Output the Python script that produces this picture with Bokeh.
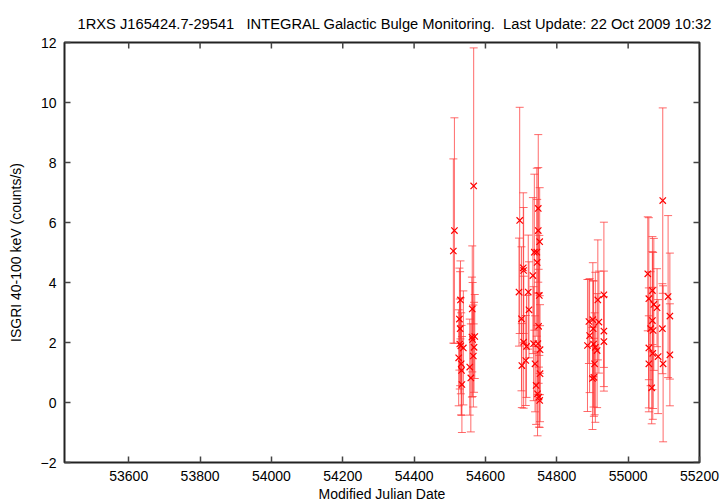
import math
from bokeh.plotting import figure
from bokeh.models import (ColumnDataSource, Whisker, TeeHead, LinearAxis,
                          FixedTicker, Range1d)
from bokeh.embed import file_html
from bokeh.resources import INLINE

# ---- data ----
mjd = [
    54510, 54513, 54525, 54527, 54528, 54529, 54530, 54531, 54532, 54533,
    54534, 54538, 54556, 54559, 54562, 54563, 54564, 54566, 54567, 54568, 54570,
    54694, 54696, 54701, 54702, 54706, 54707, 54707, 54713, 54715, 54720,
    54722, 54733, 54735, 54737, 54739, 54742, 54744, 54745, 54746, 54747,
    54748, 54748, 54749, 54750, 54751, 54752, 54752, 54753, 54753,
    54886, 54890, 54892, 54900, 54901, 54902, 54903, 54904, 54906, 54908,
    54913, 54915, 54918, 54932, 54932, 54932,
    55055, 55058, 55058, 55058, 55063, 55066, 55068, 55068, 55069, 55070,
    55072, 55081, 55084, 55096, 55097, 55098, 55112, 55117, 55117,
]
rate = [
    5.05, 5.73, 1.49, 2.78, 1.95, 2.46, 3.42, 1.89, 1.29, 1.07,
    0.60, 1.82, 1.18, 0.82, 2.18, 3.12, 2.10, 1.55, 7.22, 1.84, 2.20,
    3.68, 6.07, 2.79, 1.23, 4.49, 4.40, 2.01, 1.40, 1.87, 3.68,
    3.09, 4.23, 1.96, 5.01, 1.29, 0.57, 5.01, 4.67, 0.29, 1.96,
    6.47, 5.73, 2.54, 0.18, 3.57, 5.36, 0.07, 1.76, 0.96,
    1.90, 2.70, 2.23, 0.80, 2.76, 2.46, 1.95, 0.84, 1.29, 1.84,
    1.73, 3.42, 2.68, 3.59, 2.38, 2.03,
    4.29, 3.46, 1.82, 1.29, 2.46, 0.49, 3.73, 2.73, 1.64, 2.40,
    3.27, 3.16, 1.53, 2.46, 6.73, 1.29, 3.53, 2.88, 1.59,
]
err = [
    3.07, 3.76, 1.60, 1.70, 1.50, 1.90, 1.30, 1.60, 1.70, 1.50,
    1.60, 1.90, 1.60, 1.80, 2.00, 2.10, 1.90, 1.70, 4.60, 1.50, 1.40,
    1.80, 3.77, 2.40, 1.40, 2.50, 2.10, 2.20, 1.50, 1.70, 1.90,
    1.60, 2.60, 1.90, 2.60, 1.60, 1.30, 2.80, 2.10, 1.40, 1.70,
    2.46, 2.10, 1.90, 1.00, 2.00, 1.80, 0.90, 1.50, 1.60,
    2.20, 1.40, 1.90, 1.70, 1.90, 1.60, 2.10, 1.30, 1.70, 2.50,
    1.90, 2.00, 1.70, 2.42, 2.00, 1.50,
    1.90, 2.70, 2.00, 1.60, 1.90, 1.20, 1.80, 2.30, 2.20, 2.60,
    2.20, 1.30, 1.90, 1.50, 3.09, 2.60, 2.70, 2.10, 1.70,
]

x_range = (53420, 55200)
y_range = (-2, 12)
x_ticks = [53600, 53800, 54000, 54200, 54400, 54600, 54800, 55000, 55200]
y_ticks = [-2, 0, 2, 4, 6, 8, 10, 12]

title_text = ("1RXS J165424.7-29541\u00a0\u00a0\u00a0INTEGRAL Galactic Bulge Monitoring."
              "\u00a0\u00a0Last Update: 22 Oct 2009 10:32")
x_label = "Modified Julian Date"
y_label = "ISGRI 40-100 keV (counts/s)"

FONT = "Liberation Sans"
TICK_COLOR = "#444444"

upper = [r + e for r, e in zip(rate, err)]
lower = [r - e for r, e in zip(rate, err)]
src = ColumnDataSource(dict(x=mjd, y=rate, upper=upper, lower=lower))

p = figure(width=720, height=504, output_backend="svg", toolbar_location=None,
           x_range=Range1d(*x_range), y_range=Range1d(*y_range),
           min_border_left=64, min_border_right=21, min_border_top=42,
           min_border_bottom=42, x_axis_location=None, y_axis_location=None)
p.background_fill_color = "white"
p.border_fill_color = "white"
p.outline_line_color = "#222222"
p.outline_line_width = 2
p.xgrid.visible = False
p.ygrid.visible = False

p.title.text = title_text
p.title.text_font = FONT
p.title.text_font_size = "14.7px"
p.title.text_font_style = "normal"
p.title.text_color = "black"
p.title.align = "left"
p.title.offset = 13
p.title.standoff = 22


def make_axis(loc, ticks, label, label_standoff, axis_label_standoff):
    ax = LinearAxis(ticker=FixedTicker(ticks=ticks))
    ax.axis_line_color = None
    ax.major_tick_in = 6
    ax.major_tick_out = 0
    ax.major_tick_line_color = TICK_COLOR
    ax.major_tick_line_width = 1.5
    ax.minor_tick_line_color = None
    ax.major_label_text_font = FONT
    ax.major_label_text_font_size = "14px"
    ax.major_label_text_color = "black"
    ax.major_label_standoff = label_standoff
    ax.axis_label = label
    ax.axis_label_text_font = FONT
    ax.axis_label_text_font_size = "14px"
    ax.axis_label_text_font_style = "normal"
    ax.axis_label_text_color = "black"
    ax.axis_label_standoff = axis_label_standoff
    p.add_layout(ax, loc)
    return ax


make_axis("below", x_ticks, x_label, 8, 2)
make_axis("left", y_ticks, y_label, 8, 14)

# mirrored inward ticks on top and right edges (half of each dash is clipped by the frame)
p.scatter(x=x_ticks, y=[y_range[1]] * len(x_ticks), marker="dash", size=12,
          angle=math.pi / 2, line_color=TICK_COLOR, line_width=1.5)
p.scatter(x=[x_range[1]] * len(y_ticks), y=y_ticks, marker="dash", size=12,
          line_color=TICK_COLOR, line_width=1.5)

bar_color = "#ff3a3a"
w = Whisker(base="x", upper="upper", lower="lower", source=src,
            dimension="height", line_color=bar_color, line_alpha=0.75, line_width=1,
            upper_head=TeeHead(size=8, line_color=bar_color, line_alpha=0.75, line_width=1),
            lower_head=TeeHead(size=8, line_color=bar_color, line_alpha=0.75, line_width=1))
p.add_layout(w)

p.scatter("x", "y", source=src, marker="x", size=9, line_color="red", line_width=1.2)

open("out.html", "w").write(file_html(p, INLINE))
